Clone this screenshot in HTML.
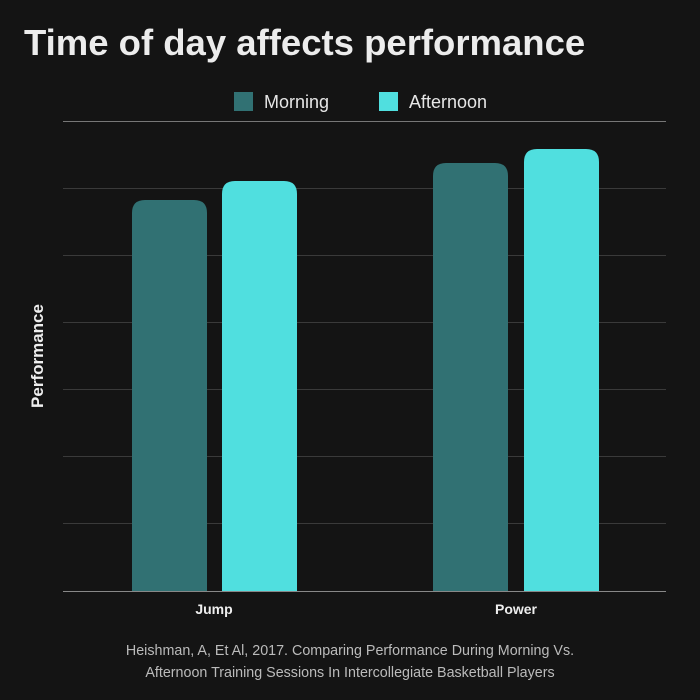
<!DOCTYPE html>
<html><head><meta charset="utf-8"><style>
html,body{margin:0;padding:0;background:#141414;}
svg{display:block;font-family:"Liberation Sans",sans-serif;}
</style></head><body>
<svg width="700" height="700" viewBox="0 0 700 700">
<rect width="700" height="700" fill="#141414"/>
<text x="24" y="55" font-size="36.5" font-weight="bold" fill="#ececec">Time of day affects performance</text>
<rect x="234" y="92" width="19" height="19" fill="#317173"/>
<text x="264" y="108" font-size="18" fill="#e6e6e6">Morning</text>
<rect x="379" y="92" width="19" height="19" fill="#50dfdf"/>
<text x="409" y="108" font-size="18" fill="#e6e6e6">Afternoon</text>
<line x1="63" y1="121.5" x2="666" y2="121.5" stroke="#777" stroke-width="1"/>
<g stroke="#3a3a3a" stroke-width="1">
<line x1="63" y1="188.5" x2="666" y2="188.5"/>
<line x1="63" y1="255.5" x2="666" y2="255.5"/>
<line x1="63" y1="322.5" x2="666" y2="322.5"/>
<line x1="63" y1="389.5" x2="666" y2="389.5"/>
<line x1="63" y1="456.5" x2="666" y2="456.5"/>
<line x1="63" y1="523.5" x2="666" y2="523.5"/>
</g>
<path d="M132 591 V213 Q132 200 145 200 H194 Q207 200 207 213 V591 Z" fill="#317173"/>
<path d="M222 591 V194 Q222 181 235 181 H284 Q297 181 297 194 V591 Z" fill="#50dfdf"/>
<path d="M433 591 V176 Q433 163 446 163 H495 Q508 163 508 176 V591 Z" fill="#317173"/>
<path d="M524 591 V162 Q524 149 537 149 H586 Q599 149 599 162 V591 Z" fill="#50dfdf"/>
<line x1="63" y1="591.5" x2="666" y2="591.5" stroke="#888" stroke-width="1"/>
<text x="214" y="614" font-size="14" font-weight="bold" fill="#eee" text-anchor="middle">Jump</text>
<text x="516" y="614" font-size="14" font-weight="bold" fill="#eee" text-anchor="middle">Power</text>
<text transform="translate(43,356) rotate(-90)" font-size="17" font-weight="bold" fill="#eee" text-anchor="middle">Performance</text>
<text x="350" y="655" font-size="14.3" fill="#bbb" text-anchor="middle">Heishman, A, Et Al, 2017. Comparing Performance During Morning Vs.</text>
<text x="350" y="677" font-size="14.3" fill="#bbb" text-anchor="middle">Afternoon Training Sessions In Intercollegiate Basketball Players</text>
</svg>
</body></html>
